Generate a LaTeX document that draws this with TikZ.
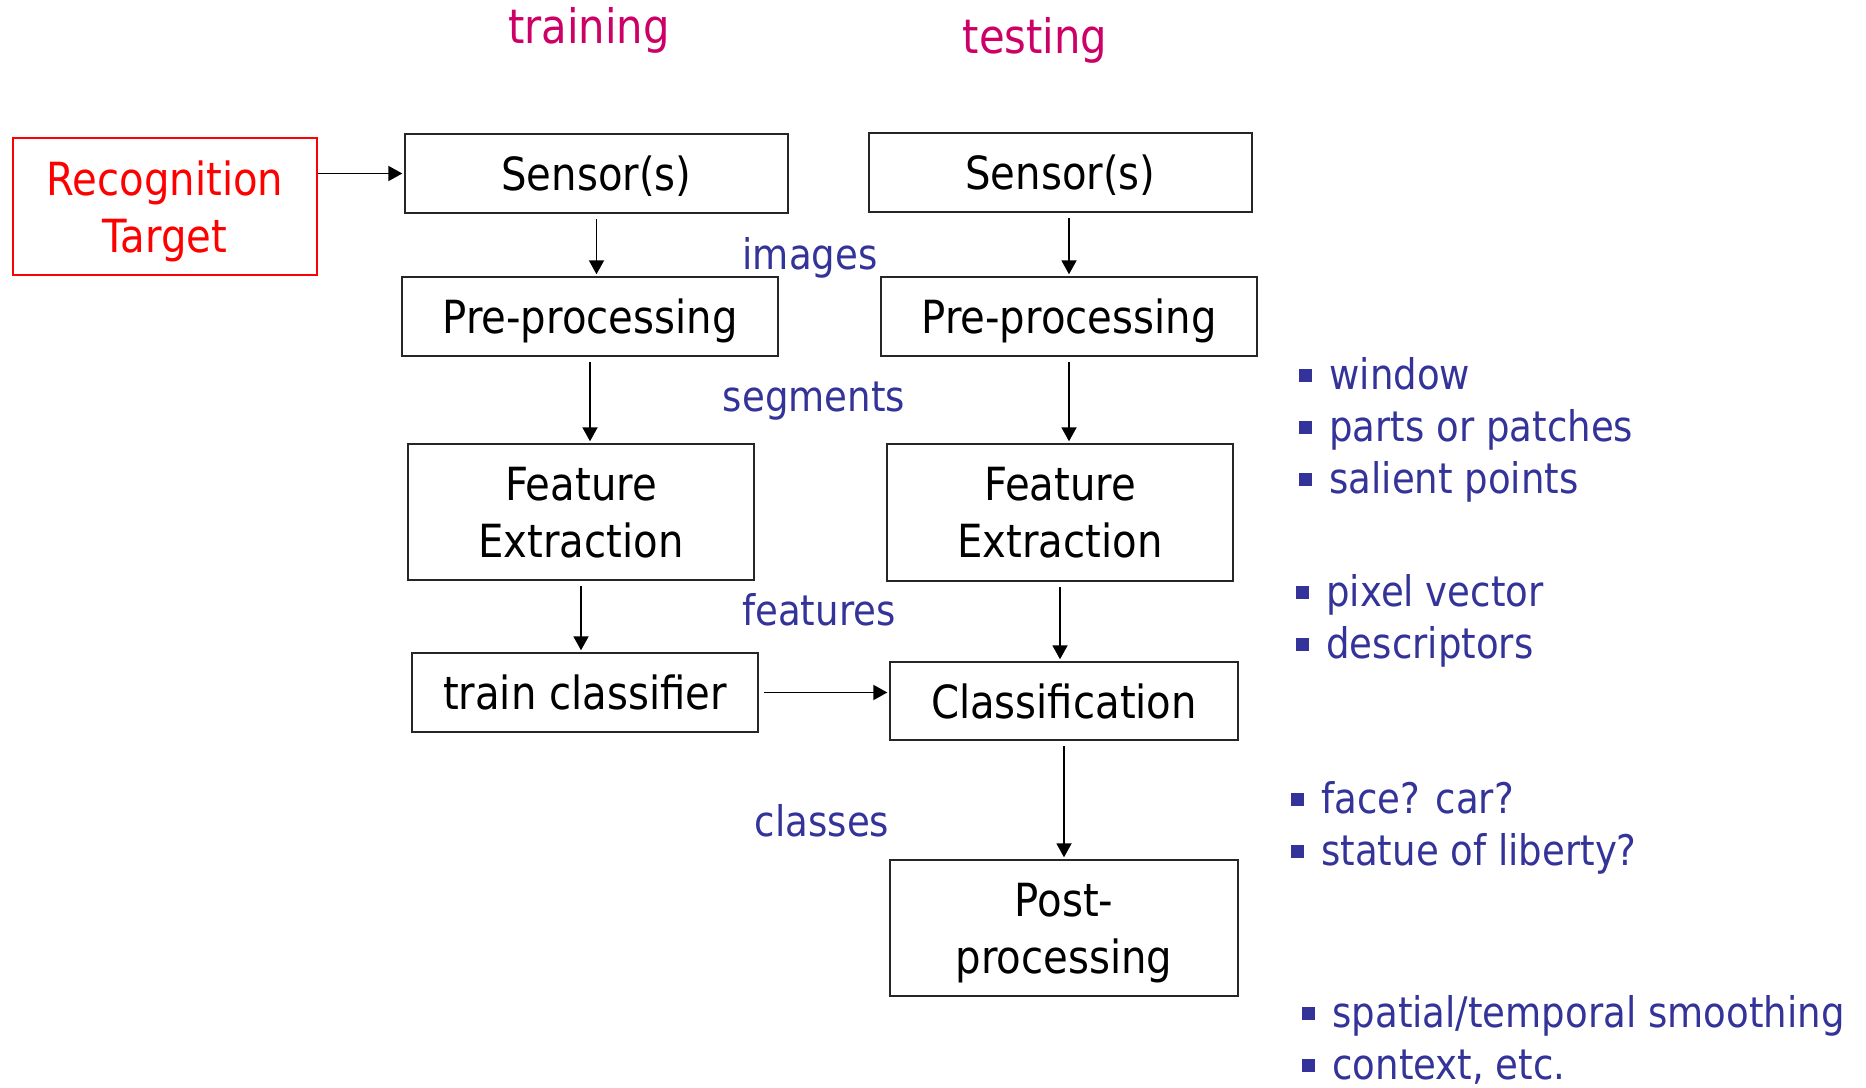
\documentclass[tikz,border=0pt]{standalone}
\usepackage{fontspec}
\setmainfont{DejaVu Sans}[FakeStretch=0.88]
\usetikzlibrary{arrows.meta}
\definecolor{slideblue}{HTML}{333399}
\definecolor{slidepink}{HTML}{CC0066}
\definecolor{slidered}{HTML}{FF0000}
\newcommand{\bul}{\textcolor{slideblue}{\rule[0.16cm]{0.25cm}{0.25cm}}\hspace{0.35cm}}
\begin{document}
\begin{tikzpicture}[x=0.02cm,y=-0.02cm,
  box/.style={draw=black!85,line width=1.1pt,inner sep=0pt,align=center,text depth=0pt,font=\fontsize{26}{32.4}\selectfont},
  note/.style={text=slideblue,font=\fontsize{24}{29.6}\selectfont},
  points/.style={note,anchor=west,align=left,inner sep=0pt},
  phase/.style={text=slidepink,font=\fontsize{27}{32}\selectfont},
  flow/.style={-{Triangle[length=0.28cm,width=0.3cm]},line width=1.1pt,shorten <=3pt,shorten >=1pt}]
\useasboundingbox (0,0) rectangle (1866,1088);
% column heads
\node[phase] (train) at (589,30) {training};
\node[phase] (test) at (1035,40) {testing};
% training column
\node[box,draw=slidered,text=slidered,minimum width=6.08cm,minimum height=2.74cm] (target) at (165,206.5) {Recognition\\Target};
\node[box,minimum width=7.66cm,minimum height=1.58cm] (sen1) at (596.5,173.5) {Sensor(s)};
\node[box,minimum width=7.52cm,minimum height=1.58cm] (pre1) at (590,316.5) {Pre-processing};
\node[box,minimum width=6.92cm,minimum height=2.72cm] (fe1) at (581,512) {Feature\\Extraction};
\node[box,minimum width=6.92cm,minimum height=1.58cm] (tc) at (585,692.5) {train classifier};
% testing column
\node[box,minimum width=7.66cm,minimum height=1.58cm] (sen2) at (1060.5,172.5) {Sensor(s)};
\node[box,minimum width=7.52cm,minimum height=1.58cm] (pre2) at (1069,316.5) {Pre-processing};
\node[box,minimum width=6.92cm,minimum height=2.74cm] (fe2) at (1060,512.5) {Feature\\Extraction};
\node[box,minimum width=6.96cm,minimum height=1.56cm] (cls) at (1064,701) {Classification};
\node[box,minimum width=6.96cm,minimum height=2.72cm] (post) at (1064,928) {Post-\\processing};
% data between stages
\node[note] (images) at (810,258) {images};
\node[note] (segs) at (814,401) {segments};
\node[note] (feats) at (819,610) {features};
\node[note] (classes) at (822,821) {classes};
% arrows
\draw[flow,shorten <=0pt] (target.east |- sen1.west) -- (sen1.west);
\draw[flow] (sen1.south) -- (sen1.south |- pre1.north);
\draw[flow] (pre1.south) -- (pre1.south |- fe1.north);
\draw[flow] (fe1.south) -- (fe1.south |- tc.north);
\draw[flow] (tc.east) -- (tc.east -| cls.west);
\draw[flow] (sen2.south -| pre2.north) -- (pre2.north);
\draw[flow] (pre2.south) -- (pre2.south |- fe2.north);
\draw[flow] (fe2.south) -- (fe2.south |- cls.north);
\draw[flow] (cls.south) -- (cls.south |- post.north);
% remarks
\node[points] (pts1) at (1299,430) {\bul window\\\bul parts or patches\\\bul salient points};
\node[points] (pts2) at (1296,621) {\bul pixel vector\\\bul descriptors};
\node[points] (pts3) at (1291,828) {\bul face? car?\\\bul statue of liberty?};
\node[points] (pts4) at (1302,1040) {\bul spatial/temporal smoothing\\\bul context, etc.};
\end{tikzpicture}
\end{document}
